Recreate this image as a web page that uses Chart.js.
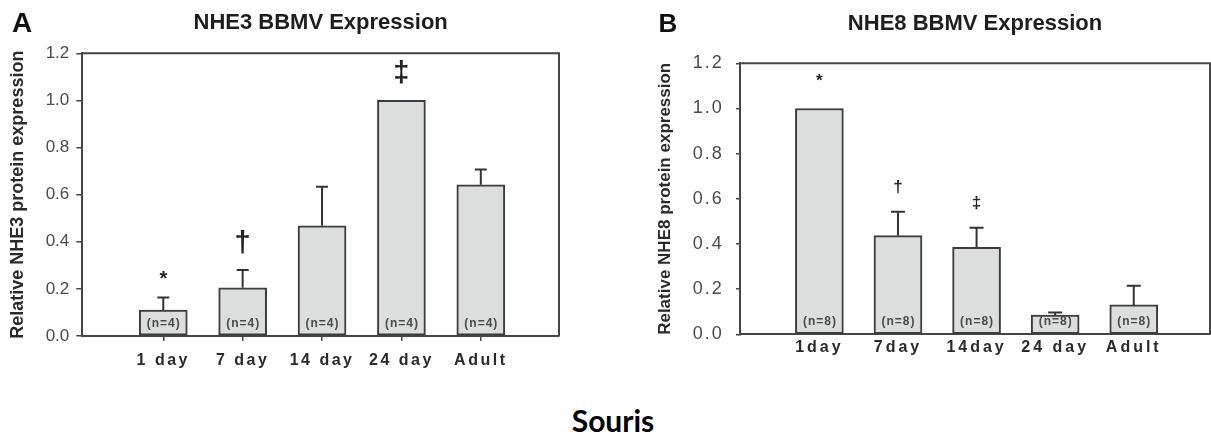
<!DOCTYPE html>
<html>
<head>
<meta charset="utf-8">
<script src="https://cdn.jsdelivr.net/npm/chart.js@4.4.1/dist/chart.umd.min.js"></script>
<style>
  html, body { margin: 0; padding: 0; background: #fff; }
  body { width: 1211px; height: 437px; position: relative; overflow: hidden; }
  .panel { position: absolute; top: 0; height: 380px; }
  #panelA { left: 0; width: 600px; }
  #panelB { left: 640px; width: 571px; }
  #caption {
    position: absolute; left: 513px; width: 200px; top: 405px;
    text-align: center; font: 700 30px/30px Lato, sans-serif; color: #000;
  }
</style>
</head>
<body>
<div class="panel" id="panelA"><canvas id="nhe3"></canvas></div>
<div class="panel" id="panelB"><canvas id="nhe8"></canvas></div>
<div id="caption">Souris</div>
<script>
const FONT = "'Liberation Sans', Arial, Helvetica, sans-serif";
const AXIS = "#454545";

const yTickValues = [0, 0.2, 0.4, 0.6, 0.8, 1.0, 1.2];

// NHE3 (panel A)
const nhe3Days = ["1 day", "7 day", "14 day", "24 day", "Adult"];
const nhe3Mean = [0.110, 0.205, 0.468, 1.000, 0.642];
const nhe3Sem = [0.053, 0.075, 0.166, 0, 0.065];
const nhe3N = [4, 4, 4, 4, 4];
const nhe3Sig = ["*", "\u2020", "", "\u2021", ""];

// NHE8 (panel B)
const nhe8Days = ["1day", "7day", "14day", "24 day", "Adult"];
const nhe8Mean = [1.000, 0.437, 0.385, 0.085, 0.130];
const nhe8Sem = [0, 0.106, 0.087, 0.012, 0.085];
const nhe8N = [8, 8, 8, 8, 8];
const nhe8Sig = ["*", "\u2020", "\u2021", "", ""];

// error bars, n labels, significance marks, plot frame and panel letter
function annotatePlugin(p) {
  return {
    id: "annotate",
    beforeDraw(chart) {
      // letter-spaced tick labels
      ["x", "y"].forEach((id) => {
        const s = chart.scales[id];
        if (s._spaced) return;
        const draw = s.drawLabels;
        const gap = p.spacing[id];
        s.drawLabels = function (area) {
          this.ctx.save();
          this.ctx.letterSpacing = gap + "px";
          draw.call(this, area);
          this.ctx.restore();
        };
        s._spaced = true;
      });
    },
    afterDatasetsDraw(chart) {
      const { ctx, chartArea: a, scales: { x, y } } = chart;
      const base = y.getPixelForValue(0);
      ctx.save();
      ctx.strokeStyle = AXIS;
      ctx.lineWidth = 2;
      ctx.beginPath();
      ctx.moveTo(a.left, a.top);
      ctx.lineTo(a.right, a.top);
      ctx.lineTo(a.right, a.bottom);
      ctx.stroke();

      p.mean.forEach((m, i) => {
        const cx = x.getPixelForValue(i);
        const top = y.getPixelForValue(m);
        const errTop = y.getPixelForValue(m + p.sem[i]);
        if (p.sem[i] > 0) {
          ctx.strokeStyle = "#333";
          ctx.lineWidth = 2;
          ctx.beginPath();
          ctx.moveTo(cx, top);
          ctx.lineTo(cx, errTop);
          ctx.moveTo(cx - p.cap / 2, errTop);
          ctx.lineTo(cx + p.cap / 2, errTop);
          ctx.stroke();
        }
        ctx.fillStyle = "#4a4a4a";
        ctx.font = `bold 12px ${FONT}`;
        ctx.letterSpacing = "1px";
        ctx.textAlign = "center";
        ctx.textBaseline = "middle";
        ctx.fillText(`(n=${p.n[i]})`, cx + 0.5, base - 12.5);

        const s = p.sig[i];
        if (s) {
          const star = s === "*";
          ctx.letterSpacing = "0px";
          ctx.fillStyle = "#222";
          ctx.font = `bold ${star ? p.starSize : p.daggerSize}px ${FONT}`;
          ctx.textBaseline = "alphabetic";
          ctx.fillText(s, cx, errTop - (star ? p.starGap : p.daggerGap));
        }
      });
      ctx.restore();
    },
    afterDraw(chart) {
      const ctx = chart.ctx;
      ctx.save();
      ctx.font = `bold ${p.letterSize}px ${FONT}`;
      ctx.fillStyle = "#111";
      ctx.textAlign = "left";
      ctx.textBaseline = "alphabetic";
      ctx.fillText(p.letter, p.letterX, 32);
      ctx.restore();
    },
  };
}

function makeChart(id, p) {
  return new Chart(document.getElementById(id), {
    type: "bar",
    data: {
      datasets: [{
        data: p.mean.map((v, i) => ({ x: i, y: v })),
        backgroundColor: "#dcdddd",
        borderColor: "#3c3c3c",
        borderWidth: 2,
        borderSkipped: false,
        barThickness: 48,
      }],
    },
    options: {
      responsive: true,
      maintainAspectRatio: false,
      animation: false,
      devicePixelRatio: 1,
      layout: { padding: { left: 0, right: p.padRight, top: 0, bottom: 0 } },
      plugins: {
        legend: { display: false },
        tooltip: { enabled: false },
        title: {
          display: true,
          text: p.title,
          fullSize: false,
          color: "#1e1e1e",
          font: { family: FONT, size: 22, weight: "bold" },
          padding: p.titlePad,
        },
      },
      scales: {
        x: {
          type: "linear",
          offset: false,
          min: p.xMin,
          max: p.xMax,
          afterBuildTicks: (s) => { s.ticks = p.days.map((_, i) => ({ value: i })); },
          afterFit: (s) => { s.height = p.xHeight; },
          grid: { offset: false, drawOnChartArea: false, drawTicks: p.xTick > 0, tickLength: p.xTick, color: AXIS, lineWidth: 1.5 },
          border: { color: AXIS, width: 2 },
          ticks: {
            callback: (v) => p.days[v],
            color: "#2a2a2a",
            padding: p.xPad,
            maxRotation: 0,
            autoSkip: false,
            font: { family: FONT, size: 16, weight: "bold" },
          },
        },
        y: {
          min: 0,
          max: 1.2,
          afterBuildTicks: (s) => { s.ticks = yTickValues.map((v) => ({ value: v })); },
          afterFit: (s) => { s.width = p.yWidth; },
          grid: { drawOnChartArea: false, tickLength: p.yTick, color: AXIS, lineWidth: 1.5 },
          border: { color: AXIS, width: 2 },
          ticks: {
            callback: (v) => v.toFixed(1),
            color: "#4a4a4a",
            padding: p.yPad,
            font: { family: FONT, size: p.ySize },
          },
          title: {
            display: true,
            text: p.yTitle,
            color: "#2a2a2a",
            font: { family: FONT, size: p.yTitleSize, weight: "bold" },
            padding: { top: p.yTitlePad, bottom: 0 },
          },
        },
      },
    },
    plugins: [annotatePlugin(p)],
  });
}

makeChart("nhe3", {
  title: "NHE3 BBMV Expression",
  yTitle: "Relative NHE3 protein expression",
  days: nhe3Days, mean: nhe3Mean, sem: nhe3Sem, n: nhe3N, sig: nhe3Sig,
  letter: "A", letterX: 12, letterSize: 28,
  xMin: -1.02, xMax: 4.985, padRight: 41,
  yWidth: 82.3, xHeight: 44,
  titlePad: { top: 9.9, bottom: 17 },
  yTitlePad: 7.2, yTitleSize: 18,
  ySize: 17, yPad: 7, yTick: 6,
  xTick: 5, xPad: 9.9,
  spacing: { x: 2.5, y: 0 },
  cap: 12, starSize: 20, daggerSize: 29, starGap: 13, daggerGap: 18,
});

makeChart("nhe8", {
  title: "NHE8 BBMV Expression",
  yTitle: "Relative NHE8 protein expression",
  days: nhe8Days, mean: nhe8Mean, sem: nhe8Sem, n: nhe8N, sig: nhe8Sig,
  letter: "B", letterX: 18.6, letterSize: 26,
  xMin: -1.01, xMax: 4.97, padRight: 1,
  yWidth: 100, xHeight: 45.7,
  titlePad: { top: 10.9, bottom: 26 },
  yTitlePad: 15.3, yTitleSize: 17,
  ySize: 18, yPad: 12.3, yTick: 4,
  xTick: 0, xPad: 3.9,
  spacing: { x: 3, y: 2 },
  cap: 14, starSize: 17, daggerSize: 17, starGap: 22, daggerGap: 20,
});
</script>
</body>
</html>
